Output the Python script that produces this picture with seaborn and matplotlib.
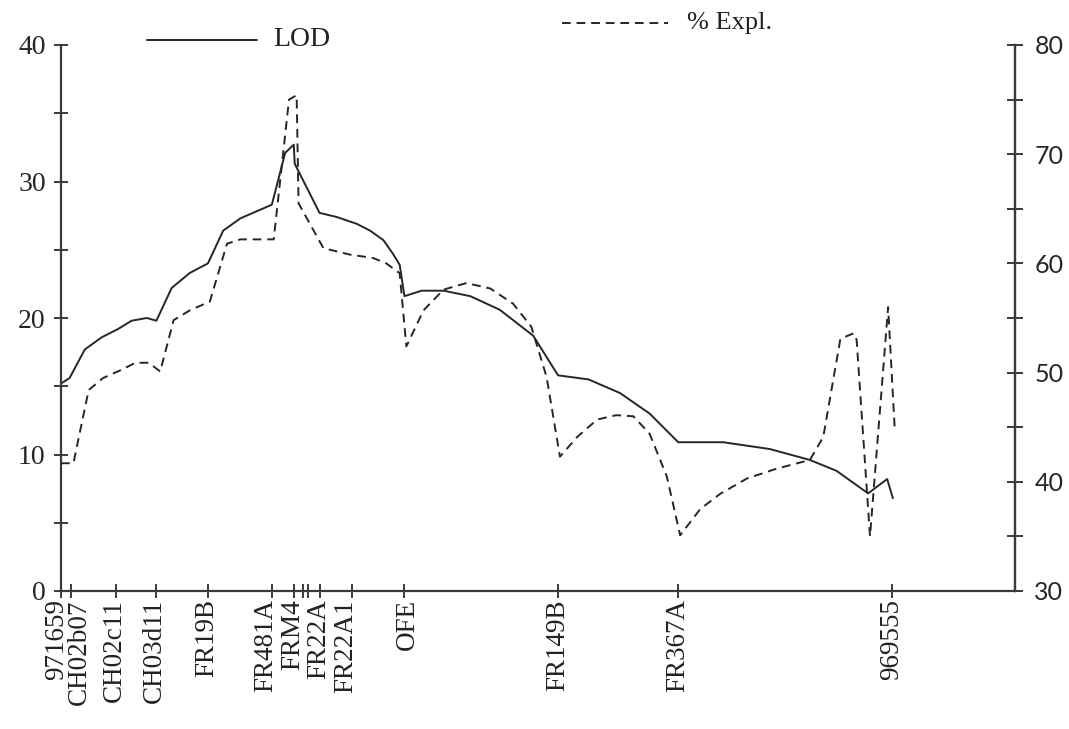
import matplotlib
matplotlib.use("Agg")
import matplotlib.pyplot as plt
import pandas as pd
import seaborn as sns
from matplotlib.lines import Line2D
from matplotlib.ticker import MultipleLocator, FixedLocator, NullFormatter

# Linkage map: loci positions (cM) and names
loci_cm = [0.0, 1.1, 5.8, 10.0, 15.4, 22.1, 24.4, 25.4, 25.9, 27.1, 30.5, 36.0, 52.1, 64.7, 87.1]
marker_names = ["971659", "CH02b07", "CH02c11", "CH03d11", "FR19B", "FR481A", "FRM4",
                "FR22A", "FR22A1", "OFE", "FR149B", "FR367A", "969555"]

# LOD profile along the linkage group
lod_cm = [0.0, 0.9, 2.5, 4.3, 6.0, 7.4, 9.0, 10.0, 11.6, 13.5, 15.4, 17.0, 18.8, 22.1,
          23.5, 24.4, 24.5, 27.1, 28.9, 31.0, 32.4, 33.8, 34.8, 35.5, 36.0, 37.8,
          40.1, 42.9, 46.0, 49.5, 52.1, 55.3, 58.6, 61.7, 64.7, 69.4, 74.3, 78.5,
          81.3, 84.6, 86.6, 87.2]
lod = [15.2, 15.6, 17.7, 18.6, 19.2, 19.8, 20.0, 19.8, 22.2, 23.3, 24.0, 26.4, 27.3, 28.3,
       32.1, 32.7, 31.3, 27.7, 27.4, 26.9, 26.4, 25.7, 24.7, 23.9, 21.6, 22.0,
       22.0, 21.6, 20.6, 18.7, 15.8, 15.5, 14.5, 13.0, 10.9, 10.9, 10.4, 9.6,
       8.8, 7.15, 8.2, 6.8]

# Percentage of phenotypic variance explained
expl_cm = [0.0, 1.3, 2.9, 4.4, 6.2, 7.8, 9.2, 10.4, 11.8, 13.5, 15.6, 17.4, 18.8, 22.3,
           23.9, 24.7, 24.9, 27.5, 30.3, 32.7, 34.1, 35.5, 36.2, 38.0, 40.1, 42.5,
           45.0, 47.4, 49.3, 50.9, 52.3, 54.1, 56.2, 58.2, 60.0, 61.7, 63.5, 64.9,
           67.0, 69.1, 71.9, 75.0, 78.5, 79.9, 81.7, 83.1, 83.4, 84.8, 86.7, 87.4]
expl = [41.7, 41.7, 48.4, 49.5, 50.2, 50.9, 50.9, 50.1, 54.8, 55.7, 56.5, 61.8, 62.2, 62.2,
        75.0, 75.4, 65.5, 61.4, 60.8, 60.5, 60.0, 59.1, 52.4, 55.7, 57.6, 58.2,
        57.7, 56.3, 54.2, 49.6, 42.3, 44.1, 45.7, 46.1, 46.0, 44.4, 40.5, 35.1,
        37.5, 38.9, 40.3, 41.2, 42.0, 44.1, 53.1, 53.6, 53.0, 35.0, 56.0, 44.7]

# Label anchor positions (cM) - spread a little where loci are crowded
label_x = [-0.45, 1.95, 5.6, 9.8, 15.3, 21.5, 24.3, 27.0, 29.8, 36.3, 52.1, 64.7, 87.1]

sns.set_style("ticks")
plt.rcParams["font.family"] = ["Liberation Serif", "DejaVu Serif"]

INK = "#262626"
AXC = "#3a3a3a"

fig = plt.figure(figsize=(10.69, 7.29), dpi=100)
ax = fig.add_axes([61 / 1069, 1 - 591 / 729, (1015 - 61) / 1069, (591 - 45) / 729])
ax2 = ax.twinx()

lod_df = pd.DataFrame({"cM": lod_cm, "LOD": lod})
expl_df = pd.DataFrame({"cM": expl_cm, "Expl": expl})

sns.lineplot(data=lod_df, x="cM", y="LOD", ax=ax, sort=False, estimator=None,
             color=INK, linewidth=1.4)
sns.lineplot(data=expl_df, x="cM", y="Expl", ax=ax2, sort=False, estimator=None,
             color=INK, linewidth=1.4, dashes=False)
ax2.lines[0].set_dashes((4.5, 3.0))

ax.set_xlim(0, 100)
ax.set_ylim(0, 40)
ax2.set_ylim(30, 80)

for a in (ax, ax2):
    a.set_xlabel("")
    a.set_ylabel("")
    a.spines["top"].set_visible(False)
    for s in a.spines.values():
        s.set_color(AXC)
        s.set_linewidth(1.6)
ax2.spines["left"].set_visible(False)
ax2.spines["bottom"].set_visible(False)

# Left axis: LOD
ax.yaxis.set_major_locator(MultipleLocator(10))
ax.yaxis.set_minor_locator(MultipleLocator(5))
ax.tick_params(axis="y", which="both", direction="inout", length=10, width=1.4,
               color=AXC, labelsize=20, pad=6)
for t in ax.get_yticklabels():
    t.set_family(["Liberation Serif"])

# Right axis: % explained
ax2.yaxis.set_major_locator(MultipleLocator(10))
ax2.yaxis.set_minor_locator(MultipleLocator(5))
ax2.yaxis.set_minor_formatter(NullFormatter())
ax2.tick_params(axis="y", which="both", direction="inout", length=12, width=1.4,
                color=AXC, labelsize=18, pad=8)
for t in ax2.get_yticklabels():
    t.set_family(["Lato", "DejaVu Sans"])

# Bottom axis: loci ticks, names placed as rotated text
ax.xaxis.set_major_locator(FixedLocator(loci_cm))
ax.xaxis.set_major_formatter(NullFormatter())
ax.tick_params(axis="x", which="both", direction="inout", length=10, width=1.4, color=AXC)
for name, xpos in zip(marker_names, label_x):
    ax.text(xpos, -0.015, name, transform=ax.get_xaxis_transform(), rotation=90,
            ha="center", va="top", fontsize=19.5, color="#222222", clip_on=False)

# Key drawn above the plotting area
fig.add_artist(Line2D([147 / 1069, 257 / 1069], [1 - 40 / 729] * 2, color=INK, lw=1.4))
fig.text(273 / 1069, 1 - 40 / 729, "LOD", fontsize=20, va="center", ha="left", color="#222222")
fig.add_artist(Line2D([562 / 1069, 668 / 1069], [1 - 23 / 729] * 2, color=INK, lw=1.4,
                      dashes=(4.5, 3.0)))
fig.text(687 / 1069, 1 - 23 / 729, "% Expl.", fontsize=19, va="center", ha="left", color="#222222")

fig.savefig("out.png", dpi=100, facecolor="white")
